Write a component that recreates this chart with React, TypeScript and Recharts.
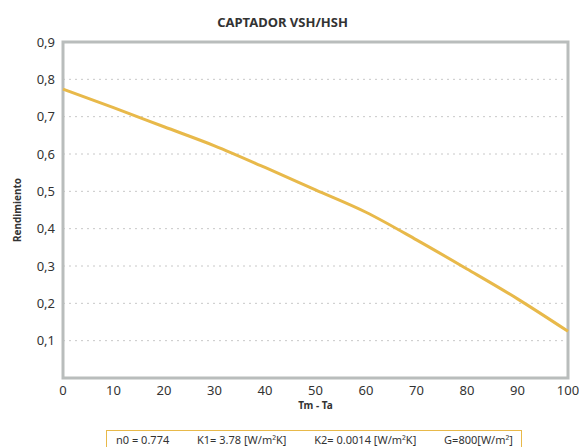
import { LineChart, Line, XAxis, YAxis, CartesianGrid, ReferenceArea } from 'recharts';

const tempDiff = [0, 10, 20, 30, 40, 50, 60, 70, 80, 90, 100];
const efficiency = [0.774, 0.724, 0.673, 0.622, 0.564, 0.504, 0.444, 0.37, 0.292, 0.212, 0.125];
const xTicks = [0, 10, 20, 30, 40, 50, 60, 70, 80, 90, 100];
const yTicks = [0.1, 0.2, 0.3, 0.4, 0.5, 0.6, 0.7, 0.8, 0.9];
const legendItems = ['n0 = 0.774', 'K1= 3.78 [W/m²K]', 'K2= 0.0014 [W/m²K]', 'G=800[W/m²]'];

const FONT = '"Noto Sans", sans-serif';
const TEXT = '#333';
const LINE = '#e8b94a';
const BORDER = '#b9bdbc';

export default function App() {
  const data = tempDiff.map((t, i) => ({ t, eta: efficiency[i] }));

  return (
    <div style={{ position: 'absolute', left: 0, top: 0, width: 579, height: 447, overflow: 'hidden', fontFamily: FONT, background: '#fff' }}>
      <div style={{ position: 'absolute', left: 0, width: 565, top: 13, textAlign: 'center', fontWeight: 700, fontSize: 13, color: TEXT }}>
        CAPTADOR VSH/HSH
      </div>

      <LineChart width={579} height={447} data={data} margin={{ top: 42, right: 11, left: 0, bottom: 0 }}>
        <CartesianGrid vertical={false} stroke="#c8c8c8" strokeDasharray="2 4" />
        <XAxis
          dataKey="t"
          type="number"
          domain={[0, 100]}
          ticks={xTicks}
          height={69}
          tickLine={false}
          axisLine={false}
          tick={{ fill: TEXT, fontSize: 13, fontFamily: FONT }}
          label={{ value: 'Tm - Ta', position: 'insideTop', offset: 24, fill: TEXT, fontSize: 10, fontWeight: 700, fontFamily: FONT }}
        />
        <YAxis
          type="number"
          domain={[0, 0.9]}
          ticks={yTicks}
          width={63}
          tickLine={false}
          axisLine={false}
          tick={{ fill: TEXT, fontSize: 13, fontFamily: FONT }}
          tickFormatter={(v) => String(v).replace('.', ',')}
        />
        <ReferenceArea x1={0} x2={100} y1={0} y2={0.9} fill="none" stroke={BORDER} strokeWidth={3} />
        <Line
          type="monotone"
          dataKey="eta"
          stroke={LINE}
          strokeWidth={3}
          dot={false}
          isAnimationActive={false}
        />
      </LineChart>

      <div style={{ position: 'absolute', left: 17, top: 210, transform: 'translate(-50%, -50%) rotate(-90deg)', fontSize: 10, fontWeight: 700, color: TEXT, whiteSpace: 'nowrap' }}>
        Rendimiento
      </div>

      <div style={{ position: 'absolute', left: 106, top: 430, width: 416, height: 17, border: `1px solid ${LINE}`, borderBottom: 'none', boxSizing: 'border-box', display: 'flex', justifyContent: 'space-between', padding: '2px 8px 0 9px', fontSize: 11, lineHeight: '13px', color: TEXT, whiteSpace: 'nowrap' }}>
        {legendItems.map((s) => (
          <span key={s}>{s}</span>
        ))}
      </div>
    </div>
  );
}
